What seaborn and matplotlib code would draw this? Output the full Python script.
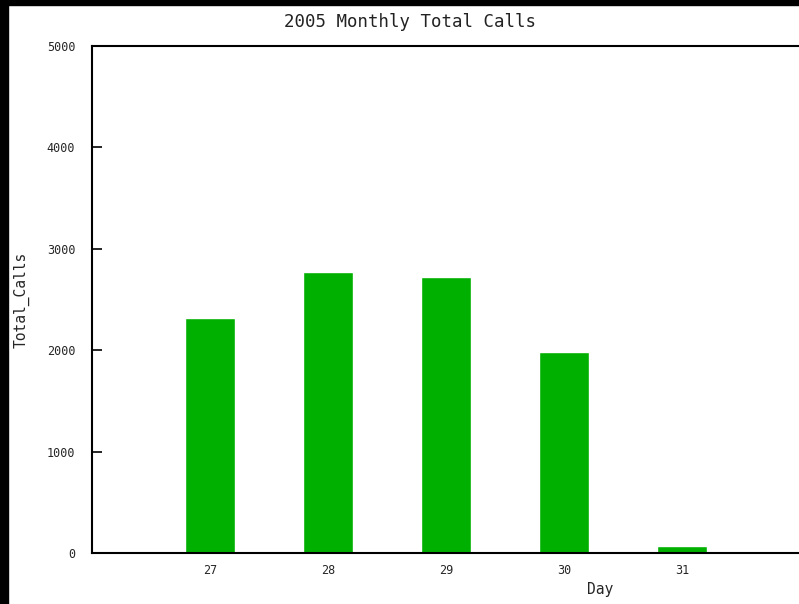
import matplotlib
matplotlib.use("Agg")
import matplotlib.pyplot as plt
import seaborn as sns
import pandas as pd
from matplotlib.patches import Rectangle

days = ["27", "28", "29", "30", "31"]
total_calls = [2318, 2771, 2722, 1982, 70]
y_ticks = [0, 1000, 2000, 3000, 4000, 5000]

sns.set_style("white")
plt.rcParams['font.family'] = ['DejaVu Sans Mono', 'DejaVu Sans']

df = pd.DataFrame({"Day": days, "Total_Calls": total_calls})

fig = plt.figure(figsize=(7.99, 6.04), dpi=100)
fig.patch.set_facecolor("white")
# black strips along the top and left edges of the picture
fig.patches.append(Rectangle((0, 1 - 5 / 604), 1, 5 / 604, transform=fig.transFigure,
                             color="black", zorder=10))
fig.patches.append(Rectangle((0, 0), 8 / 799, 1, transform=fig.transFigure,
                             color="black", zorder=10))

ax = fig.add_axes([92 / 799, 1 - 553 / 604, 708 / 799, (553 - 46) / 604])
sns.barplot(data=df, x="Day", y="Total_Calls", color="#00b000", saturation=1,
            width=0.42, ax=ax)

ax.set_xlim(-1, 5)
ax.set_ylim(0, 5000)
ax.set_yticks(y_ticks)
ax.set_yticklabels([str(v) for v in y_ticks], fontsize=8.5)
ax.tick_params(axis="y", left=True, direction="in", length=7, width=1.2,
               color="black", pad=12)
ax.tick_params(axis="x", bottom=False, length=0, labelsize=8.5, pad=8)

for side in ["left", "bottom", "top"]:
    ax.spines[side].set_visible(True)
    ax.spines[side].set_color("black")
    ax.spines[side].set_linewidth(1.5)
ax.spines["right"].set_visible(False)

fig.text(410 / 799, 1 - 22 / 604, "2005 Monthly Total Calls", fontsize=12.5,
         ha="center", va="center", color="#222222")
ax.set_ylabel("Total_Calls", fontsize=10.5)
ax.yaxis.set_label_coords((30 - 92) / 708, 0.5)
ax.set_xlabel("Day", fontsize=10.5)
ax.xaxis.set_label_coords((600 - 92) / 708, -(582 - 553) / 507)

fig.savefig("out.png", dpi=100, facecolor=fig.get_facecolor())
